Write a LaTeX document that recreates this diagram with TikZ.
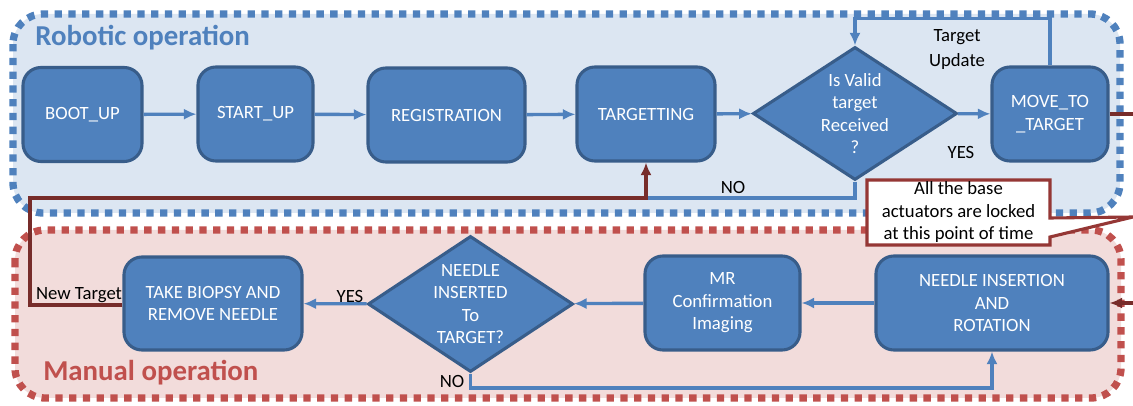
\documentclass[tikz,border=0pt]{standalone}
\usepackage{fontspec}
\setmainfont{Carlito}
\usetikzlibrary{shapes.geometric,arrows.meta}
\definecolor{boxfill}{HTML}{4F81BD}
\definecolor{boxline}{HTML}{385D8A}
\definecolor{robofill}{HTML}{DCE6F2}
\definecolor{roboline}{HTML}{4F81BD}
\definecolor{manfill}{HTML}{F2DCDB}
\definecolor{manline}{HTML}{C0504D}
\definecolor{backred}{HTML}{772C2A}
\definecolor{noteline}{HTML}{953735}

\begin{document}
\begin{tikzpicture}[x=0.025cm,y=-0.025cm,
    font=\fontsize{13.3}{16}\selectfont,
    state/.style={rectangle,rounded corners=0.45cm,fill=boxfill,draw=boxline,line width=2.2pt,
      text=white,align=center,minimum height=2.35cm,inner sep=2pt},
    check/.style={diamond,aspect=1.53,fill=boxfill,draw=boxline,line width=2.2pt,text=white,align=center,inner sep=0pt},
    flow/.style={draw=roboline,line width=2.4pt,-{Latex[length=9pt,width=8pt]}},
    flowline/.style={draw=roboline,line width=2.4pt},
    back/.style={draw=backred,line width=2.6pt},
    lbl/.style={text=black,align=center,inner sep=0pt},
    zone/.style={line width=5.2pt,dash pattern=on 5.2pt off 4.6pt,rounded corners=0.75cm}]
  \useasboundingbox (0,0) rectangle (1133,406);

  % operation zones
  \path[zone,fill=robofill,draw=roboline] (13,14) rectangle (1120,213);
  \path[zone,fill=manfill,draw=manline] (15,230) rectangle (1121,398);
  \node[anchor=west,inner sep=0pt,text=roboline,font=\fontsize{20.5}{24}\selectfont\bfseries] (robtitle) at (35,38) {Robotic operation};
  \node[anchor=west,inner sep=0pt,text=manline,font=\fontsize{20.5}{24}\selectfont\bfseries] (mantitle) at (43,373) {Manual operation};

  % robotic states
  \node[state,minimum width=2.975cm] (boot) at (82.5,114.5) {BOOT\_UP};
  \node[state,minimum width=2.875cm] (start) at (255.5,114) {START\_UP};
  \node[state,minimum width=3.925cm] (reg) at (446.5,115) {REGISTRATION};
  \node[state,minimum width=3.45cm] (targ) at (646,114) {TARGETTING};
  \node[check,minimum width=5.1cm,minimum height=3.325cm] (valid) at (855,113.5) {Is Valid\\target\\Received\\?};
  \node[state,minimum width=2.9cm] (move) at (1050,114) {MOVE\_TO\\\_TARGET};

  % manual states
  \node[state,minimum width=5.8cm] (insert) at (992,303) {NEEDLE INSERTION\\AND\\ROTATION};
  \node[state,minimum width=3.875cm] (mr) at (722.5,303) {MR\\Confirmation\\Imaging};
  \node[check,minimum width=5.125cm,minimum height=3.4cm] (inserted) at (470.5,304) {NEEDLE\\INSERTED\\To\\TARGET?};
  \node[state,minimum width=4.45cm,minimum height=2.325cm] (biopsy) at (213,303.5) {TAKE BIOPSY AND\\REMOVE NEEDLE};

  \coordinate (join) at (646,198);
  \coordinate (newturn) at (30,305);
  \coordinate (noturn) at (992,388);
  \coordinate (outright) at (1133,114);
  \coordinate (inright) at (1133,303);
  \coordinate (calltip) at (1133,217);

  \draw[flow] (boot) -- (start);
  \draw[flow] (start) -- (reg);
  \draw[flow] (reg) -- (targ);
  \draw[flow] (targ) -- (valid);
  \draw[flow] (valid) -- (move);
  \draw[flow] (move.north) -- ++(0,-47) -| (valid.north);
  \draw[flowline] (valid.south) |- (join);
  \draw[back,-{Latex[length=9pt,width=8pt]}] (biopsy.west |- newturn) -- (newturn) |- (join) -- (targ.south);
  \draw[back] (move.east) -- (outright);
  \draw[back,-{Latex[length=9pt,width=8pt]}] (inright) -- (insert.east);
  \draw[flow] (insert) -- (mr);
  \draw[flow] (mr) -- (inserted);
  \draw[flow] (inserted) -- (biopsy);
  \draw[flow] (inserted.south) |- (noturn) -- (insert.south);

  % labels
  \node[lbl] (update) at (957,49.5) {Target\\[2pt]Update};
  \node[lbl] (yesmove) at (961,152) {YES};
  \node[lbl] (notarg) at (733,187) {NO};
  \node[lbl] (yesbiopsy) at (350,296) {YES};
  \node[lbl] (noinsert) at (452,381) {NO};
  \node[lbl] (newtarget) at (79,295) {New Target};

  % note
  \filldraw[fill=white,draw=noteline,line width=2.2pt] (867,180) -- (1050,180) -- (1050,218) -- (calltip)
    -- (1050,237) -- (1050,245) -- (867,245) -- cycle;
  \node[lbl] (note) at (958.5,212.5) {All the base\\actuators are locked\\at this point of time};
\end{tikzpicture}
\end{document}
